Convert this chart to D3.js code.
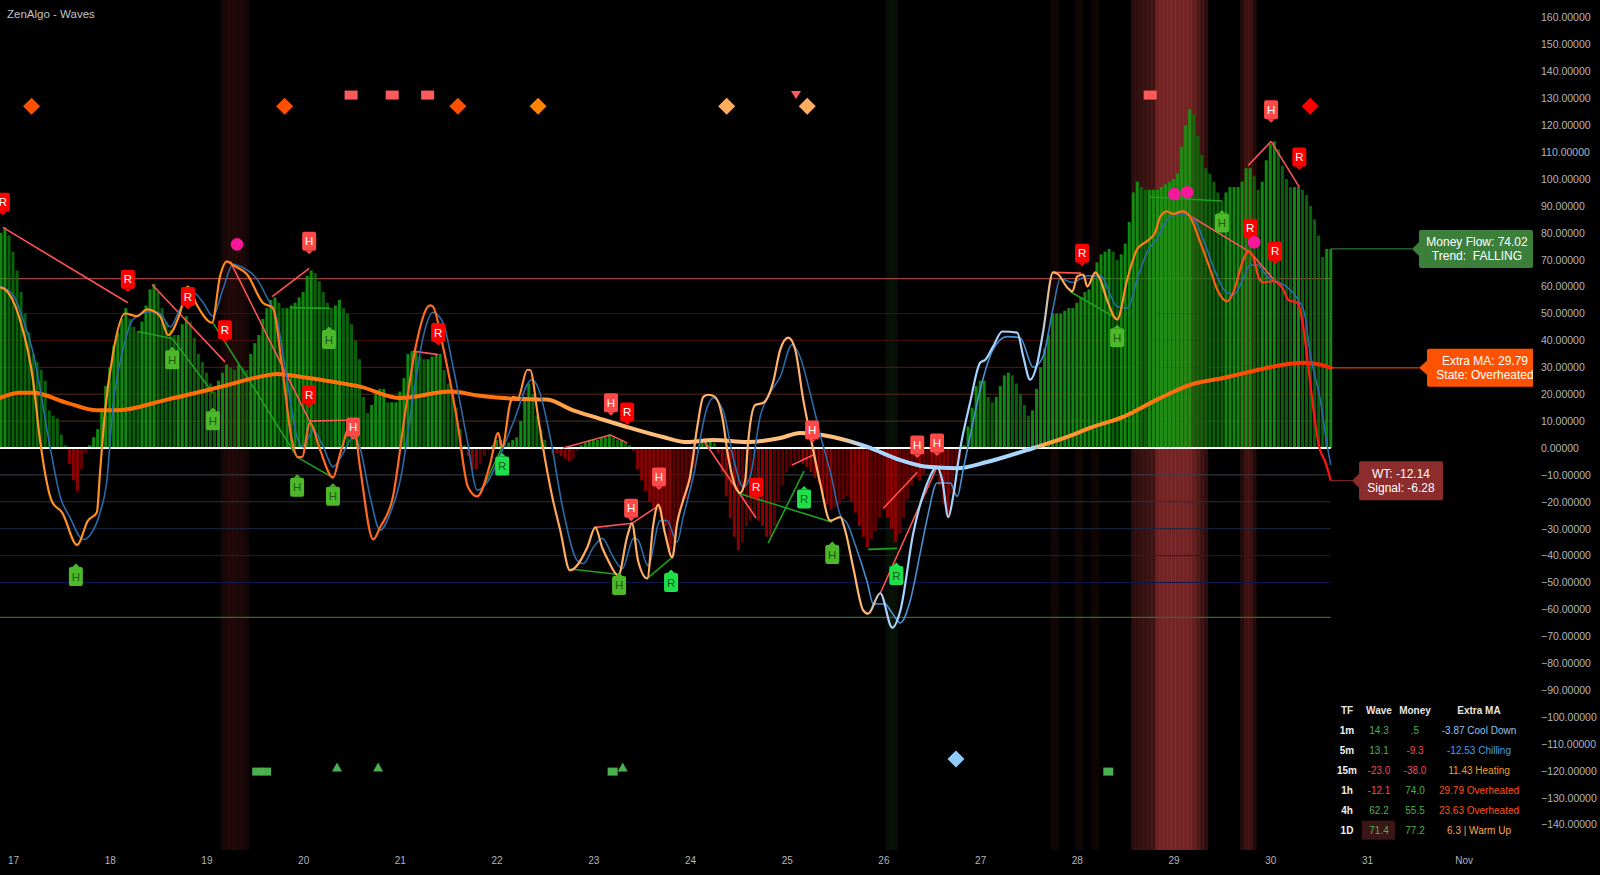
<!DOCTYPE html>
<html>
<head>
<meta charset="utf-8">
<title>ZenAlgo - Waves</title>
<script src="https://cdn.jsdelivr.net/npm/d3@7/dist/d3.min.js"></script>
<style>
  html, body { margin:0; padding:0; background:#000; overflow:hidden; }
  svg { display:block; font-family:"Liberation Sans", Arial, sans-serif; }
</style>
</head>
<body>
<svg id="chart" width="1600" height="875"></svg>
<script>
// ================= DATA =================
const dayTicks  = [0,24,48,72,96,120,144,168,192,216,240,264,288,312,336,360];
const dayLabels = ["17","18","19","20","21","22","23","24","25","26","27","28","29","30","31","Nov"];
const yTickValues = [160,150,140,130,120,110,100,90,80,70,60,50,40,30,20,10,0,-10,-20,-30,-40,-50,-60,-70,-80,-90,-100,-110,-120,-130,-140];
const levels = [63,50,40,30,20,10,-10,-20,-30,-40,-50,-63];

// hourly money flow histogram, first bar at hour -3 (Oct 16 21:00)
const mfStart = -3;
const moneyFlow = [
  80,82,79,
  73,66,58,50,43,35,32,29,25,14,12,11,5,1,-6,-12,-16,-8,-2,1,4,7,14,23,
  30,38,43,48,52,48,45,43,47,53,59,61,58,52,47,44,42,42,46,49,47,41,35,32,
  28,24,21,25,28,31,30,29,31,30,29,35,39,42,48,52,55,56,54,52,52,53,54,56,
  58,64,66,65,62,58,54,52,53,55,52,50,46,40,33,19,13,16,20,22,22,17,17,17,
  21,26,35,36,36,34,33,33,34,35,35,29,24,22,15,7,1,-3,-8,-8,-6,-3,-1,1,
  3,3,2,2,3,4,10,19,24,20,12,7,3,0,-2,-2,-3,-4,-5,-4,-1,1,2,3,
  3,3,4,4,5,4,3,3,2,1,-1,-8,-12,-16,-20,-22,-23,-26,-29,-38,-36,-27,-22,-19,
  -13,-7,-1,2,3,3,2,-2,-9,-18,-26,-33,-38,-35,-29,-27,-26,-27,-29,-33,-33,-29,-20,-14,
  -9,-7,-5,-4.5,-6,-7,-9,-11,-13,-17,-21,-23,-22,-21,-19,-18,-20,-24,-29,-33,-37,-34,-31,-26,
  -23,-26,-30,-35,-32,-26,-19,-14,-11,-12,-10,-8,-8,-8,-14,-21,-25,-17,-9,-4,1,8,15,23,
  25,25,19,17,19,23,27,28,27,24,20,16,12,14,22,30,37,42,50,50,50,51,52,52,
  54,56,58,59,64,69,72,73,74,73,70,72,76,84,95,99,97,96,96,96,96,97,98,99,
  100,102,112,120,126,124,116,109,104,102,99,95,92,95,97,97,97,99,104,104,101,96,99,107,
  113,114,111,105,100,97,97,97,96,94,90,85,79,71,74,74.02
];

// WaveTrend line [hour, value]
const wtPoints = [
  [-3.2,59.7],[-2,59],[1.7,47.8],[5,25],[6.7,3],[9.7,-20],[12.2,-24],[15.9,-36],[18.6,-27],[20.8,-24],[21.6,-9],[22.8,13],[24.8,35],[27.8,50],[30.8,49],[33.3,51.5],[36.5,49],[38.5,42],[41.4,50],[43.4,60],[45.7,53],[49.4,46.6],[51.4,64],[53.1,69.4],[54.6,68],[58.1,64.5],[62,54],[64.5,52],[66.8,30],[69.2,3],[70.7,-3.4],[71.7,-3.4],[73.7,9.3],[76.2,-0.7],[79.4,-11],[81.2,-2],[84.4,10.4],[86.1,-7],[89.4,-34],[91.1,-29.5],[94.3,-18],[97.3,13],[99.8,36.6],[103.5,53],[104.2,52.6],[106.7,37.7],[110.2,10.4],[112.9,-14.5],[115.2,-18],[118.4,-6],[120.4,5.6],[121.4,0.4],[123.4,16.8],[124.1,19],[125.3,18.6],[127.6,29],[128.3,29],[130.3,11.6],[131.5,0.4],[133.8,-18],[135.8,-30.6],[138.2,-45.5],[142.5,-37],[144.5,-29.5],[146.2,-37],[147.7,-41.8],[150.2,-47.4],[152.4,-33],[153.6,-28],[155.1,-41.8],[157.4,-48.5],[158.8,-29.5],[160.1,-21],[161.8,-31.7],[163.6,-40.7],[164.8,-28],[166.3,-19.4],[168,-10.8],[169.8,7.8],[171.3,19],[172.5,19.8],[174.2,19],[176,11.6],[177.5,-3.4],[179.7,-15.7],[180.4,-16.8],[181.7,-12],[182.4,1.9],[184.2,16],[186.2,16.8],[188.6,24.3],[190.4,36.6],[192.4,41],[194.1,36.6],[196.1,18],[197.8,5],[200.3,-13],[202.8,-27],[205.3,-25.7],[206.5,-30.6],[208.5,-44.4],[211,-60.4],[212.2,-61.6],[215.2,-54],[218.2,-66.8],[220.2,-60.4],[223.4,-31.7],[226.9,-13],[229.3,-7],[230.6,-12],[232.1,-25.7],[233.3,-18],[235,-0.7],[237.5,16.8],[240,31.7],[241.3,32.8],[243.2,37.7],[245.5,43.3],[249.2,42.9],[250.7,34],[252.4,25.4],[254.2,31.7],[255.6,42.9],[258.1,65.3],[259.4,64.5],[261.6,59.7],[262.9,58.2],[264.1,63.8],[265.6,64.5],[266.6,60],[268.6,65.3],[269.8,62.7],[271.5,55],[274,47.8],[276.5,62.7],[279,74],[281.5,77],[283.4,80],[284.7,86],[286.4,88],[287.9,87],[290.2,88],[292.1,86],[294.6,76.5],[297.1,66.4],[298.8,59],[301.3,54.5],[302.8,57.8],[305.3,70],[306.5,73],[307.8,71],[309,63.8],[310.2,61.6],[312.7,62],[315.2,59],[316.5,55],[318.7,54],[324.4,-1],[325.6,-5],[327,-12.14]
];

// Signal line [hour, value]
const signalPoints = [
  [-3.2,60],[0,57],[2.5,47.8],[5,35.4],[9.2,0.4],[11.7,-18],[14.1,-25.7],[17.4,-34],[19.9,-30.6],[21.6,-24],[23.3,-12],[24.8,15.3],[27.3,36.6],[29.8,47.8],[34,50.7],[36.5,50],[39,45],[41.4,51.5],[44.7,57.8],[47.2,54],[49.6,49],[52.1,59],[54.6,68.3],[57.1,67],[60.6,62.7],[63,56],[65.5,47.8],[68,25.4],[70.5,4],[72,0.4],[74.5,6.7],[77,0.4],[79.4,-7],[81.9,-2],[84.4,4],[86.1,0],[88.6,-18],[91.1,-30.6],[93.6,-24.3],[96.1,-12],[99.3,19],[101.8,41.4],[104.2,50.4],[106.7,46.6],[109.2,30.2],[112.7,3],[115.2,-15.7],[118,-12],[120.1,-5.6],[124.1,9.3],[128.8,25.4],[130.3,22.4],[133.3,4],[136.5,-23],[140,-41.8],[141.5,-43],[144,-37],[146.2,-33.6],[149,-40.7],[151.2,-44.8],[154,-33.6],[155,-34],[157.6,-43.7],[160.6,-27],[162.3,-27],[164.8,-35],[166.3,-25.7],[168.8,-10.8],[172.3,15.3],[173.7,18.6],[176.2,14],[178.7,-3.4],[181.2,-14.5],[182.9,-10.8],[185.4,11.6],[187.9,20.5],[190.4,26.5],[193.3,38.4],[195.3,34],[197.8,20.5],[200.3,5],[203,-10],[205.3,-25],[207,-28],[209,-36],[212,-50],[213.5,-58],[216.4,-58],[218,-61],[220.2,-65],[222.6,-57],[225,-40],[226.9,-26],[229.3,-13],[232.6,-13],[234.3,-18],[235.8,-8],[238,8],[240,21.6],[243.2,36.6],[246.7,41.4],[249.9,41],[253.2,30],[255.6,34],[258.1,52],[259.9,63],[262.9,61.5],[266.6,64],[269.8,64],[274,52.6],[276.5,52],[279,63],[281.5,73],[284,78],[286.5,85],[289,87],[291,87],[293.5,84],[296,75],[298.5,65],[301,58],[303,57],[305,62],[307,68],[309,68],[311,64],[313.5,62],[316,60],[318.5,56],[320.5,50],[321.9,35],[324.4,18],[326,2],[327,-6.28]
];

// Extra MA [hour, value]
const extraMA = [
  [-3.2,18.6],[1.7,20.5],[5,20.5],[13.4,16.8],[20.8,14],[25.8,14],[38.2,18],[50.6,22.4],[63,27],[65.5,27.5],[71.2,26.5],[79.4,24.6],[86.1,22.8],[96.1,18.6],[108.5,21],[115.9,19.4],[124.1,18.3],[132.5,18],[139,14],[145,11.2],[153.1,7.5],[161.3,4.1],[167.3,2.2],[173.7,3],[182.2,2.2],[190.4,3.7],[195.3,5.6],[203.5,4.1],[212,0.4],[220.2,-4.5],[226.9,-7],[234.3,-7.5],[241.7,-5.2],[253.2,0],[261.6,4.1],[267.3,7.5],[275.5,11.6],[283.9,18],[292.1,23.5],[300.3,26],[308.8,29],[316.9,31.3],[320.2,31.7],[324.4,31],[327,29.79]
];

// divergence lines [t1, v1, t2, v2]
const divBear = [
  [-2.5,82,28.5,54],[34.5,60.8,52.6,32],[53.9,69.4,73.7,9.7],[64.3,56.3,73.5,66.8],[73.7,10,84.4,10.4],[99.3,36,105.5,34.7],
  [136.5,0,148.2,4.8],[148.2,4.8,152.4,1.9],[144.5,-29.5,153.6,-28],[153.6,-28,160.3,-21.3],[171.3,3,184.4,-26],[193.3,-6.3,198.6,-2.6],
  [216,-22.4,224.4,-9],[215.2,-54,229.3,-7],[258,65.3,265,65],[306.5,105,312.2,114],[312.2,114,319.2,97],[290.2,88,307,72.8],[307,72.8,313.2,62]
];
const divBull = [
  [30.8,43.3,39.5,40.7],[39.5,40.7,49.6,20.5],[49.6,46.6,70.5,-3.4],[70.5,-3.4,79.4,-11],[68.8,52.2,78.7,51.9],[115.9,-17,121.4,0.4],
  [138.3,-45,150.4,-47],[157.4,-48.5,163.3,-41],[180,-16.8,203.3,-27.6],[187.4,-35.4,196.3,-8.6],[212.2,-37.7,219.4,-37.3],
  [262.3,58.2,274.3,47.8],[282.2,93.3,300,91.8]
];

// divergence labels [t, v, letter]
const bearLabels = [
  [-2.5,91.4,"R"],[28.5,62.7,"R"],[43.4,56.3,"R"],[52.6,44,"R"],[73.5,76.9,"H"],[73.5,19.8,"R"],[84.4,7.8,"H"],[105.5,42.9,"R"],
  [148.4,16.8,"H"],[152.4,13.4,"R"],[160.3,-10.8,"H"],[153.4,-22.4,"H"],[184.4,-14.6,"R"],[198.3,6.7,"H"],[224.4,1.1,"H"],[229.3,1.9,"H"],
  [265.3,72.4,"R"],[312.2,125.7,"H"],[319.2,108.2,"R"],[307,81.7,"R"],[313.2,73.1,"R"]
];
const bullLabels = [
  [15.6,-47.8,"H"],[39.5,32.8,"H"],[49.6,10.1,"H"],[70.5,-14.6,"H"],[79.4,-17.9,"H"],[78.4,40.3,"H"],[121.4,-6.7,"R"],
  [150.4,-51.1,"H"],[163.3,-50,"R"],[196.3,-19,"R"],[203.3,-39.6,"H"],[219.2,-47.4,"R"],[274,41,"H"],[300,83.6,"H"]
];

// pink dots [t, v]
const dots = [[55.6,75.7],[288.2,94.4],[291.4,95.1],[308,76.5]];

// top / bottom signal shapes [t, v, kind]
const topMarkers = [
  [4.6,127,"dRedOrange"],[67.4,127,"dRedOrange"],[83.9,131.2,"sqPink"],[94.1,131.2,"sqPink"],[102.9,131.2,"sqPink"],
  [110.4,127,"dRedOrange"],[130.3,127,"dOrange"],[177.1,127,"dPeach"],[194.3,131.2,"triPink"],[197.1,127,"dPeach"],
  [282.2,131.2,"sqPink"],[321.9,127,"dRed"]
];
const bottomMarkers = [
  [60.6,-120.3,"sqGreen"],[62.8,-120.3,"sqGreen"],[80.4,-118.8,"triGreen"],[90.6,-118.8,"triGreen"],
  [148.8,-120.3,"sqGreen"],[151.3,-118.8,"triGreen"],[234,-115.6,"dBlue"],[271.8,-120.3,"sqGreen"]
];

// background highlight hours [t, intensity]
const bgRed = [
  [52,0.09],[53,0.13],[54,0.15],[55,0.15],[56,0.13],[57,0.12],[58,0.09],
  [258,0.08],[259,0.08],[264,0.08],[265,0.08],[268,0.07],[269,0.07],
  [278,0.22],[279,0.24],[280,0.26],[281,0.28],[282,0.3],[283,0.33],[284,0.55],[285,0.58],[286,0.58],[287,0.58],[288,0.58],[289,0.58],[290,0.58],[291,0.58],[292,0.56],[293,0.5],[294,0.4],[295,0.3],[296,0.22],
  [305,0.18],[306,0.3],[307,0.3],[308,0.18]
];
const bgGreen = [[217,0.07],[218,0.09],[219,0.07]];

// last values
const lastMoney = 74.02, lastTrend = "FALLING";
const lastMA = 29.79, lastState = "Overheated";
const lastWT = -12.14, lastSignal = -6.28;

// multi-timeframe table
const tableTF = ["1m","5m","15m","1h","4h","1D"];
const tableWave = [14.3,13.1,-23.0,-12.1,62.2,71.4];
const tableMoney = [0.5,-9.3,-38.0,74.0,55.5,77.2];
const tableMAText = ["-3.87 Cool Down","-12.53 Chilling","11.43 Heating","29.79 Overheated","23.63 Overheated","6.3 | Warm Up"];
const tableState = ["Cool Down","Chilling","Heating","Overheated","Overheated","Warm Up"];

// ================= STYLE =================
const levelColor = {"63":"#9c4444","50":"#3e0d0d","40":"#4a100f","30":"#561b0f","20":"#5a2b12","10":"#4d3414",
  "-10":"#3c404c","-20":"#29313f","-30":"#1c2844","-40":"#15204c","-50":"#0e1652","-63":"#2f6d2f"};
const markerColor = {dRedOrange:"#ff5000", dOrange:"#ff8200", dPeach:"#ffac5e", dRed:"#ff0000", sqPink:"#ff5a5a", triPink:"#ff5a5a",
  sqGreen:"#4caf50", triGreen:"#4caf50", dBlue:"#90caf9"};
const stateColor = {"Cool Down":"#8ec5ef","Chilling":"#4a9ee6","Heating":"#f39c1a","Overheated":"#ff5014","Warm Up":"#ffa64d"};
const wtStops = [[-3.2,"#ff9326"],[62,"#ff8a1e"],[67,"#ff6a22"],[118,"#ff6a22"],[124,"#ff8a2a"],[138,"#ffac62"],[212,"#ffb672"],[216,"#a6d4ff"],[255,"#a6d4ff"],[258,"#ffb060"],[270,"#ffa040"],[278,"#ff7e1a"],[292,"#ff6814"],[305,"#ff4a18"],[316,"#ff2020"],[327,"#ff1010"]];
const maStops = [[-3.2,"#ff6a00"],[120,"#ff7410"],[135,"#ff9a40"],[148,"#ffbd78"],[205,"#ffc080"],[211,"#a8d6ff"],[253,"#a8d6ff"],[256,"#ffa040"],[270,"#ff8c20"],[290,"#ff6a08"],[310,"#ff4400"],[327,"#ff2200"]];
const sigStops = [[-3.2,"#2a6aa8"],[205,"#2a6aa8"],[212,"#4a90d0"],[255,"#4a90d0"],[260,"#2a6aa8"],[327,"#2a6aa8"]];

// ================= CHART =================
const svg = d3.select("#chart");
const x = d3.scaleLinear().domain([0,336]).range([13,1367]);
const y = d3.scaleLinear().domain([-140,160]).range([824.6,17.6]);
const hourW = x(1) - x(0);
const paneBottom = 850;
const tEnd = mfStart + moneyFlow.length - 1;
const xEnd = x(tEnd);

svg.append("rect").attr("width",1600).attr("height",875).attr("fill","#000");
const defs = svg.append("defs");
defs.append("clipPath").attr("id","pane").append("rect").attr("x",0).attr("y",0).attr("width",1533).attr("height",paneBottom);

function addGradient(id, stops){
  const x0 = x(-3.2), x1 = x(tEnd);
  const g = defs.append("linearGradient").attr("id",id).attr("gradientUnits","userSpaceOnUse")
    .attr("x1",x0).attr("x2",x1).attr("y1",0).attr("y2",0);
  stops.forEach(([t,c]) => g.append("stop").attr("offset",Math.max(0,Math.min(1,(x(t)-x0)/(x1-x0)))).attr("stop-color",c));
}
addGradient("wtGrad", wtStops);
addGradient("maGrad", maStops);
addGradient("sigGrad", sigStops);

const pane = svg.append("g").attr("clip-path","url(#pane)");

// background hour highlights
pane.append("g").selectAll("rect").data(bgRed).join("rect")
  .attr("x", d => x(d[0]) - hourW/2).attr("width", hourW + 0.4)
  .attr("y", 0).attr("height", paneBottom)
  .attr("fill", d => `rgba(200,62,62,${d[1]})`);
pane.append("g").selectAll("rect").data(bgGreen).join("rect")
  .attr("x", d => x(d[0]) - hourW/2).attr("width", hourW + 0.4)
  .attr("y", 0).attr("height", paneBottom)
  .attr("fill", d => `rgba(80,200,80,${d[1]})`);

// level lines
pane.append("g").selectAll("line").data(levels).join("line")
  .attr("x1", 0).attr("x2", xEnd)
  .attr("y1", d => y(d)).attr("y2", d => y(d))
  .attr("stroke", d => levelColor[String(d)])
  .attr("stroke-width", d => Math.abs(d) === 63 ? 1.3 : 1);

// money flow histogram
const mf = moneyFlow.map((v,i) => ({t: mfStart + i, v, prev: i ? moneyFlow[i-1] : v}));
pane.append("g").selectAll("rect").data(mf).join("rect")
  .attr("x", d => x(d.t) - 1.5).attr("width", 3)
  .attr("y", d => Math.min(y(d.v), y(0)))
  .attr("height", d => Math.abs(y(d.v) - y(0)))
  .attr("fill", d => d.v >= 0 ? (d.v >= d.prev ? "#10a010" : "#0a720a") : (d.v <= d.prev ? "#a00000" : "#6e0000"))
  .attr("fill-opacity", 0.85);

// zero line
pane.append("line").attr("x1",0).attr("x2",xEnd).attr("y1",y(0)).attr("y2",y(0))
  .attr("stroke","#ffffff").attr("stroke-width",2);

// divergence lines
pane.append("g").selectAll("line").data(divBear).join("line")
  .attr("x1", d => x(d[0])).attr("y1", d => y(d[1])).attr("x2", d => x(d[2])).attr("y2", d => y(d[3]))
  .attr("stroke","#ff5252").attr("stroke-width",1.6);
pane.append("g").selectAll("line").data(divBull).join("line")
  .attr("x1", d => x(d[0])).attr("y1", d => y(d[1])).attr("x2", d => x(d[2])).attr("y2", d => y(d[3]))
  .attr("stroke","#1fa01f").attr("stroke-width",1.6);

// lines
const line = d3.line().x(d => x(d[0])).y(d => y(d[1])).curve(d3.curveMonotoneX);
pane.append("path").datum(extraMA).attr("d", line).attr("fill","none")
  .attr("stroke","url(#maGrad)").attr("stroke-width",4).attr("stroke-linecap","round");
pane.append("path").datum(signalPoints).attr("d", line).attr("fill","none")
  .attr("stroke","url(#sigGrad)").attr("stroke-width",1.6);
pane.append("path").datum(wtPoints).attr("d", line).attr("fill","none")
  .attr("stroke","url(#wtGrad)").attr("stroke-width",2.2).attr("stroke-linejoin","round");

// labels
function drawLabels(data, bear){
  const g = pane.append("g");
  data.forEach(([t,v,txt]) => {
    const cx = x(t), cy = y(v), w = 14, h = 19;
    let fill, tcol;
    if (bear) { fill = txt === "R" ? "#ff0000" : "#ff4848"; tcol = "#ffffff"; }
    else { fill = txt === "R" ? "#1fe04a" : "#4cb82a"; tcol = txt === "R" ? "#0b5d1e" : "#1d5a12"; }
    g.append("rect").attr("x", cx - w/2).attr("y", cy - h/2).attr("width", w).attr("height", h).attr("rx", 2).attr("fill", fill);
    const tip = bear ? [[cx-3.5, cy+h/2],[cx+3.5, cy+h/2],[cx, cy+h/2+3.5]] : [[cx-3.5, cy-h/2],[cx+3.5, cy-h/2],[cx, cy-h/2-3.5]];
    g.append("polygon").attr("points", tip.map(p => p.join(",")).join(" ")).attr("fill", fill);
    g.append("text").attr("x", cx).attr("y", cy + 4).attr("text-anchor","middle")
      .attr("font-size", 11.5).attr("fill", tcol).text(txt);
  });
}
drawLabels(bearLabels, true);
drawLabels(bullLabels, false);

// dots
pane.append("g").selectAll("circle").data(dots).join("circle")
  .attr("cx", d => x(d[0])).attr("cy", d => y(d[1])).attr("r", 6.3).attr("fill","#f7179b");

// shape markers
function drawMarkers(data, up){
  const g = pane.append("g");
  data.forEach(([t,v,kind]) => {
    const cx = x(t), cy = y(v), c = markerColor[kind];
    if (kind.startsWith("d")) {
      g.append("polygon").attr("points", `${cx},${cy-8.5} ${cx+8.5},${cy} ${cx},${cy+8.5} ${cx-8.5},${cy}`).attr("fill", c);
    } else if (kind.startsWith("sq")) {
      const w = up ? 10 : 13, h = up ? 8 : 9;
      g.append("rect").attr("x", cx - w/2).attr("y", cy - h/2).attr("width", w).attr("height", h).attr("fill", c);
    } else {
      const pts = up ? `${cx},${cy-5} ${cx+5},${cy+4} ${cx-5},${cy+4}` : `${cx-5},${cy-4} ${cx+5},${cy-4} ${cx},${cy+4}`;
      g.append("polygon").attr("points", pts).attr("fill", c);
    }
  });
}
drawMarkers(topMarkers, false);
drawMarkers(bottomMarkers, true);

// right-side value boxes
function sideBox(v, tipX, bx1, bx2, h, color, lineColor, lines, tcx){
  const yc = y(v);
  pane.append("line").attr("x1", xEnd).attr("x2", tipX).attr("y1", yc).attr("y2", yc).attr("stroke", lineColor).attr("stroke-width", 1);
  pane.append("polygon").attr("points", `${tipX},${yc} ${bx1+1},${yc-8} ${bx1+1},${yc+8}`).attr("fill", color);
  pane.append("rect").attr("x", bx1).attr("y", yc - h/2).attr("width", bx2 - bx1).attr("height", h).attr("rx", 2).attr("fill", color);
  lines.forEach((s,i) => {
    pane.append("text").attr("x", tcx).attr("y", yc - 3 + i*14.5).attr("text-anchor","middle")
      .attr("font-size", 12).attr("fill", "#ffffff").attr("xml:space","preserve").text(s);
  });
}
sideBox(lastMoney, 1412, 1419, 1533, 38, "#3b7f3b", "#3c8c3c", [`Money Flow: ${lastMoney.toFixed(2)}`, `Trend:  ${lastTrend}`], 1477);
sideBox(lastMA, 1419, 1427, 1545, 38, "#ff5200", "#ff5a00", [`Extra MA: ${lastMA.toFixed(2)}`, `State: ${lastState}`], 1485);
sideBox(lastWT, 1352, 1359, 1443, 39, "#8c2c2c", "#8c2c2c", [`WT: ${lastWT.toFixed(2)}`, `Signal: ${lastSignal.toFixed(2)}`], 1401);

// table
const tbl = svg.append("g").attr("font-size", 10);
const colX = [1347, 1379, 1415, 1479];
const rowY = d => 710.7 + d*20;
["TF","Wave","Money","Extra MA"].forEach((h,i) => {
  tbl.append("text").attr("x", colX[i]).attr("y", rowY(0) + 3.5).attr("text-anchor","middle")
    .attr("font-weight","bold").attr("fill","#e6e6e6").text(h);
});
const fmt1 = v => { let s = v.toFixed(1); if (s.startsWith("0.")) s = s.slice(1); return s; };
tableTF.forEach((tf,i) => {
  const ry = rowY(i+1) + 3.5;
  if (tf === "1D") {
    tbl.append("rect").attr("x", 1362).attr("y", rowY(i+1) - 10).attr("width", 33).attr("height", 19).attr("fill", "#3b1616");
  }
  tbl.append("text").attr("x", colX[0]).attr("y", ry).attr("text-anchor","middle").attr("font-weight","bold").attr("fill","#f0f0f0").text(tf);
  tbl.append("text").attr("x", colX[1]).attr("y", ry).attr("text-anchor","middle").attr("fill", tableWave[i] >= 0 ? "#4caf50" : "#f04a5a").text(fmt1(tableWave[i]));
  tbl.append("text").attr("x", colX[2]).attr("y", ry).attr("text-anchor","middle").attr("fill", tableMoney[i] >= 0 ? "#4caf50" : "#f04a5a").text(fmt1(tableMoney[i]));
  tbl.append("text").attr("x", colX[3]).attr("y", ry).attr("text-anchor","middle").attr("fill", stateColor[tableState[i]]).text(tableMAText[i]);
});

// axes
const yAxis = d3.axisRight(y).tickValues(yTickValues).tickSize(0).tickPadding(0)
  .tickFormat(d => (d < 0 ? "\u2212" : "") + Math.abs(d).toFixed(5));
svg.append("g").attr("transform","translate(1541,0)").call(yAxis)
  .call(g => g.select(".domain").remove())
  .selectAll("text").attr("fill","#b2b5be").style("font-size","10.5px").style("font-family","'Liberation Sans', Arial, sans-serif");

const xAxis = d3.axisBottom(x).tickValues(dayTicks).tickSize(0).tickPadding(0)
  .tickFormat((d,i) => dayLabels[i]);
svg.append("g").attr("transform","translate(0,857)").call(xAxis)
  .call(g => g.select(".domain").remove())
  .selectAll("text").attr("fill","#b2b5be").style("font-size","10px").style("font-family","'Liberation Sans', Arial, sans-serif");

// title
svg.append("text").attr("x", 7).attr("y", 18).attr("font-size", 11.5).attr("fill", "#c3c5cb").text("ZenAlgo - Waves");
</script>
</body>
</html>
